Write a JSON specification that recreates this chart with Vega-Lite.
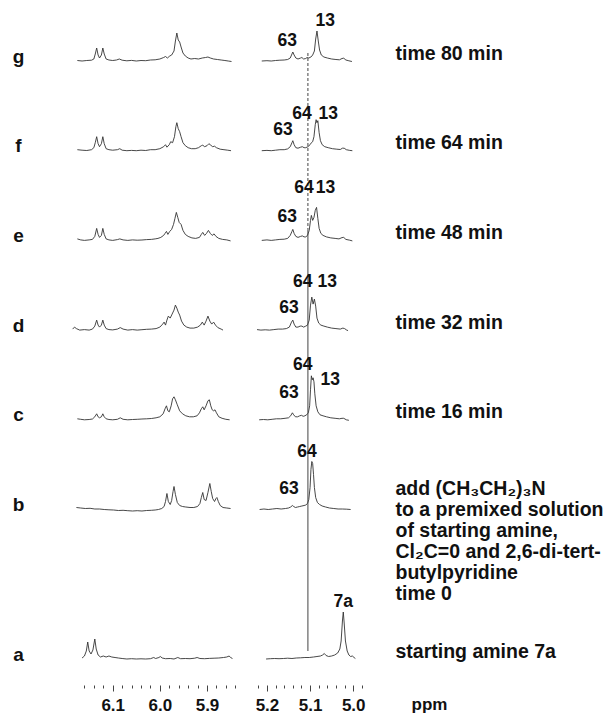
{
"$schema": "https://vega.github.io/schema/vega-lite/v6.json",
"width": 289, "height": 598,
"autosize": {"type": "none"},
"padding": {"left": 75, "top": 61, "right": 249, "bottom": 56},
"background": "white",
"config": {"view": {"stroke": null}, "font": "Liberation Sans"},
"datasets": {
"left": [
{"s":"g","p":6.175,"v":0.5},{"s":"g","p":6.165,"v":0},{"s":"g","p":6.155,"v":0.5},{"s":"g","p":6.145,"v":0.8},{"s":"g","p":6.14,"v":2},{"s":"g","p":6.137,"v":7},{"s":"g","p":6.134,"v":13},{"s":"g","p":6.131,"v":6},{"s":"g","p":6.128,"v":3},{"s":"g","p":6.124,"v":6},{"s":"g","p":6.121,"v":13},{"s":"g","p":6.118,"v":7},{"s":"g","p":6.114,"v":2},{"s":"g","p":6.108,"v":1},{"s":"g","p":6.1,"v":0.5},{"s":"g","p":6.092,"v":1},{"s":"g","p":6.086,"v":2},{"s":"g","p":6.08,"v":0.8},{"s":"g","p":6.07,"v":0.2},{"s":"g","p":6.06,"v":0.6},{"s":"g","p":6.05,"v":0},{"s":"g","p":6.04,"v":0.5},{"s":"g","p":6.03,"v":0.3},{"s":"g","p":6.02,"v":1},{"s":"g","p":6.01,"v":1.2},{"s":"g","p":6.0,"v":2},{"s":"g","p":5.992,"v":3.5},{"s":"g","p":5.988,"v":4.5},{"s":"g","p":5.984,"v":3},{"s":"g","p":5.979,"v":5},{"s":"g","p":5.975,"v":6},{"s":"g","p":5.97,"v":10},{"s":"g","p":5.967,"v":20},{"s":"g","p":5.964,"v":28},{"s":"g","p":5.961,"v":21},{"s":"g","p":5.958,"v":19},{"s":"g","p":5.955,"v":14},{"s":"g","p":5.951,"v":8},{"s":"g","p":5.946,"v":5},{"s":"g","p":5.94,"v":3},{"s":"g","p":5.934,"v":2},{"s":"g","p":5.926,"v":2.5},{"s":"g","p":5.918,"v":2},{"s":"g","p":5.91,"v":3},{"s":"g","p":5.903,"v":3.5},{"s":"g","p":5.898,"v":4},{"s":"g","p":5.893,"v":3},{"s":"g","p":5.886,"v":2},{"s":"g","p":5.878,"v":1.5},{"s":"g","p":5.87,"v":1},{"s":"g","p":5.862,"v":0.5},{"s":"g","p":5.855,"v":0},{"s":"g","p":5.848,"v":-0.5},
{"s":"f","p":6.175,"v":1},{"s":"f","p":6.165,"v":0.5},{"s":"f","p":6.155,"v":0.2},{"s":"f","p":6.145,"v":1},{"s":"f","p":6.14,"v":3},{"s":"f","p":6.137,"v":8},{"s":"f","p":6.134,"v":14},{"s":"f","p":6.131,"v":7},{"s":"f","p":6.128,"v":4},{"s":"f","p":6.124,"v":7},{"s":"f","p":6.121,"v":14},{"s":"f","p":6.118,"v":7},{"s":"f","p":6.114,"v":2},{"s":"f","p":6.108,"v":1},{"s":"f","p":6.1,"v":0.5},{"s":"f","p":6.09,"v":1},{"s":"f","p":6.085,"v":2},{"s":"f","p":6.08,"v":0.5},{"s":"f","p":6.07,"v":0},{"s":"f","p":6.06,"v":0.3},{"s":"f","p":6.05,"v":0},{"s":"f","p":6.04,"v":0.5},{"s":"f","p":6.03,"v":0.2},{"s":"f","p":6.02,"v":1},{"s":"f","p":6.01,"v":1},{"s":"f","p":6.0,"v":2},{"s":"f","p":5.992,"v":4},{"s":"f","p":5.988,"v":6},{"s":"f","p":5.985,"v":3.5},{"s":"f","p":5.98,"v":6},{"s":"f","p":5.977,"v":9},{"s":"f","p":5.973,"v":8},{"s":"f","p":5.969,"v":14},{"s":"f","p":5.966,"v":24},{"s":"f","p":5.964,"v":28},{"s":"f","p":5.961,"v":22},{"s":"f","p":5.958,"v":19},{"s":"f","p":5.955,"v":14},{"s":"f","p":5.951,"v":8},{"s":"f","p":5.946,"v":5},{"s":"f","p":5.94,"v":3},{"s":"f","p":5.933,"v":2},{"s":"f","p":5.925,"v":2},{"s":"f","p":5.918,"v":3},{"s":"f","p":5.912,"v":5},{"s":"f","p":5.909,"v":5.5},{"s":"f","p":5.905,"v":4},{"s":"f","p":5.9,"v":5},{"s":"f","p":5.896,"v":7},{"s":"f","p":5.892,"v":5.5},{"s":"f","p":5.888,"v":4},{"s":"f","p":5.884,"v":4.5},{"s":"f","p":5.88,"v":3},{"s":"f","p":5.872,"v":1.5},{"s":"f","p":5.864,"v":1},{"s":"f","p":5.856,"v":0.5},{"s":"f","p":5.849,"v":0},
{"s":"e","p":6.175,"v":1.5},{"s":"e","p":6.168,"v":0.5},{"s":"e","p":6.16,"v":0},{"s":"e","p":6.15,"v":0.5},{"s":"e","p":6.143,"v":1},{"s":"e","p":6.138,"v":4},{"s":"e","p":6.134,"v":12},{"s":"e","p":6.131,"v":6},{"s":"e","p":6.128,"v":3},{"s":"e","p":6.124,"v":5},{"s":"e","p":6.121,"v":12},{"s":"e","p":6.118,"v":6},{"s":"e","p":6.114,"v":1.5},{"s":"e","p":6.108,"v":0.5},{"s":"e","p":6.1,"v":0},{"s":"e","p":6.09,"v":0.8},{"s":"e","p":6.085,"v":1.5},{"s":"e","p":6.078,"v":0.5},{"s":"e","p":6.068,"v":0},{"s":"e","p":6.058,"v":0.5},{"s":"e","p":6.048,"v":0.2},{"s":"e","p":6.038,"v":0.4},{"s":"e","p":6.028,"v":0.8},{"s":"e","p":6.018,"v":1},{"s":"e","p":6.01,"v":1.5},{"s":"e","p":6.004,"v":2},{"s":"e","p":5.998,"v":3},{"s":"e","p":5.992,"v":5},{"s":"e","p":5.989,"v":7},{"s":"e","p":5.986,"v":9},{"s":"e","p":5.983,"v":6},{"s":"e","p":5.979,"v":9},{"s":"e","p":5.975,"v":11},{"s":"e","p":5.971,"v":16},{"s":"e","p":5.968,"v":22},{"s":"e","p":5.965,"v":28},{"s":"e","p":5.962,"v":23},{"s":"e","p":5.959,"v":18},{"s":"e","p":5.955,"v":16},{"s":"e","p":5.951,"v":10},{"s":"e","p":5.946,"v":6},{"s":"e","p":5.94,"v":4},{"s":"e","p":5.932,"v":2.5},{"s":"e","p":5.924,"v":2},{"s":"e","p":5.916,"v":3},{"s":"e","p":5.912,"v":6},{"s":"e","p":5.909,"v":8},{"s":"e","p":5.905,"v":5},{"s":"e","p":5.901,"v":7},{"s":"e","p":5.897,"v":10},{"s":"e","p":5.893,"v":7},{"s":"e","p":5.889,"v":5},{"s":"e","p":5.885,"v":6.5},{"s":"e","p":5.881,"v":4},{"s":"e","p":5.875,"v":2},{"s":"e","p":5.867,"v":1},{"s":"e","p":5.858,"v":0.5},{"s":"e","p":5.85,"v":-0.5},
{"s":"d","p":6.185,"v":1},{"s":"d","p":6.181,"v":3},{"s":"d","p":6.177,"v":1.5},{"s":"d","p":6.17,"v":0},{"s":"d","p":6.16,"v":0.5},{"s":"d","p":6.15,"v":0},{"s":"d","p":6.143,"v":1},{"s":"d","p":6.138,"v":4},{"s":"d","p":6.134,"v":10},{"s":"d","p":6.131,"v":5},{"s":"d","p":6.128,"v":3},{"s":"d","p":6.124,"v":5},{"s":"d","p":6.121,"v":10},{"s":"d","p":6.118,"v":5},{"s":"d","p":6.114,"v":1.5},{"s":"d","p":6.108,"v":0.5},{"s":"d","p":6.1,"v":0.2},{"s":"d","p":6.09,"v":1},{"s":"d","p":6.084,"v":2.5},{"s":"d","p":6.078,"v":1},{"s":"d","p":6.068,"v":0},{"s":"d","p":6.058,"v":0.5},{"s":"d","p":6.048,"v":0},{"s":"d","p":6.038,"v":0.4},{"s":"d","p":6.028,"v":0.8},{"s":"d","p":6.018,"v":1},{"s":"d","p":6.008,"v":1.5},{"s":"d","p":6.0,"v":3},{"s":"d","p":5.994,"v":6},{"s":"d","p":5.991,"v":8},{"s":"d","p":5.988,"v":5},{"s":"d","p":5.985,"v":10},{"s":"d","p":5.982,"v":14},{"s":"d","p":5.978,"v":12},{"s":"d","p":5.974,"v":16},{"s":"d","p":5.97,"v":20},{"s":"d","p":5.967,"v":25},{"s":"d","p":5.964,"v":22},{"s":"d","p":5.961,"v":18},{"s":"d","p":5.958,"v":15},{"s":"d","p":5.954,"v":9},{"s":"d","p":5.949,"v":5},{"s":"d","p":5.943,"v":3},{"s":"d","p":5.936,"v":2},{"s":"d","p":5.928,"v":2},{"s":"d","p":5.92,"v":3},{"s":"d","p":5.914,"v":5},{"s":"d","p":5.91,"v":8},{"s":"d","p":5.906,"v":5},{"s":"d","p":5.902,"v":9},{"s":"d","p":5.898,"v":14},{"s":"d","p":5.894,"v":9},{"s":"d","p":5.89,"v":6},{"s":"d","p":5.886,"v":8},{"s":"d","p":5.882,"v":5},{"s":"d","p":5.877,"v":2.5},{"s":"d","p":5.87,"v":1},{"s":"d","p":5.866,"v":0},
{"s":"c","p":6.175,"v":1},{"s":"c","p":6.168,"v":0.5},{"s":"c","p":6.16,"v":0},{"s":"c","p":6.15,"v":0.3},{"s":"c","p":6.143,"v":0.8},{"s":"c","p":6.138,"v":3},{"s":"c","p":6.134,"v":6},{"s":"c","p":6.131,"v":3},{"s":"c","p":6.128,"v":2},{"s":"c","p":6.124,"v":3},{"s":"c","p":6.121,"v":6},{"s":"c","p":6.118,"v":3},{"s":"c","p":6.114,"v":1},{"s":"c","p":6.108,"v":0.3},{"s":"c","p":6.1,"v":0},{"s":"c","p":6.09,"v":0.5},{"s":"c","p":6.084,"v":2},{"s":"c","p":6.078,"v":0.5},{"s":"c","p":6.068,"v":0},{"s":"c","p":6.058,"v":0.3},{"s":"c","p":6.048,"v":0.5},{"s":"c","p":6.038,"v":0.8},{"s":"c","p":6.028,"v":1},{"s":"c","p":6.018,"v":1.3},{"s":"c","p":6.008,"v":2},{"s":"c","p":6.0,"v":3},{"s":"c","p":5.993,"v":6},{"s":"c","p":5.989,"v":11},{"s":"c","p":5.986,"v":14},{"s":"c","p":5.983,"v":9},{"s":"c","p":5.98,"v":8},{"s":"c","p":5.976,"v":14},{"s":"c","p":5.973,"v":21},{"s":"c","p":5.97,"v":23},{"s":"c","p":5.967,"v":20},{"s":"c","p":5.963,"v":15},{"s":"c","p":5.958,"v":9},{"s":"c","p":5.952,"v":6},{"s":"c","p":5.945,"v":4},{"s":"c","p":5.937,"v":3},{"s":"c","p":5.929,"v":3},{"s":"c","p":5.921,"v":4},{"s":"c","p":5.916,"v":7},{"s":"c","p":5.912,"v":11},{"s":"c","p":5.909,"v":13},{"s":"c","p":5.906,"v":10},{"s":"c","p":5.902,"v":14},{"s":"c","p":5.898,"v":19},{"s":"c","p":5.895,"v":20},{"s":"c","p":5.892,"v":14},{"s":"c","p":5.889,"v":10},{"s":"c","p":5.886,"v":9},{"s":"c","p":5.883,"v":10},{"s":"c","p":5.88,"v":7},{"s":"c","p":5.875,"v":3},{"s":"c","p":5.868,"v":1.5},{"s":"c","p":5.86,"v":0.5},{"s":"c","p":5.852,"v":0},
{"s":"b","p":6.177,"v":2},{"s":"b","p":6.168,"v":1.5},{"s":"b","p":6.158,"v":1},{"s":"b","p":6.148,"v":1.2},{"s":"b","p":6.138,"v":0.5},{"s":"b","p":6.128,"v":0.5},{"s":"b","p":6.118,"v":0},{"s":"b","p":6.108,"v":-0.3},{"s":"b","p":6.098,"v":-0.5},{"s":"b","p":6.088,"v":-1},{"s":"b","p":6.078,"v":-0.8},{"s":"b","p":6.068,"v":-1.2},{"s":"b","p":6.058,"v":-1.5},{"s":"b","p":6.048,"v":-1.2},{"s":"b","p":6.038,"v":-1.5},{"s":"b","p":6.028,"v":-1},{"s":"b","p":6.018,"v":-0.8},{"s":"b","p":6.01,"v":-0.5},{"s":"b","p":6.003,"v":0},{"s":"b","p":5.996,"v":1},{"s":"b","p":5.991,"v":3},{"s":"b","p":5.988,"v":8},{"s":"b","p":5.985,"v":16},{"s":"b","p":5.982,"v":8},{"s":"b","p":5.978,"v":5},{"s":"b","p":5.975,"v":9},{"s":"b","p":5.972,"v":18},{"s":"b","p":5.97,"v":23},{"s":"b","p":5.967,"v":15},{"s":"b","p":5.963,"v":7},{"s":"b","p":5.958,"v":4},{"s":"b","p":5.952,"v":3},{"s":"b","p":5.945,"v":2.5},{"s":"b","p":5.936,"v":2},{"s":"b","p":5.928,"v":2},{"s":"b","p":5.92,"v":3},{"s":"b","p":5.915,"v":6},{"s":"b","p":5.912,"v":12},{"s":"b","p":5.909,"v":17},{"s":"b","p":5.906,"v":10},{"s":"b","p":5.902,"v":9},{"s":"b","p":5.898,"v":17},{"s":"b","p":5.894,"v":26},{"s":"b","p":5.891,"v":18},{"s":"b","p":5.888,"v":11},{"s":"b","p":5.884,"v":8},{"s":"b","p":5.881,"v":11},{"s":"b","p":5.879,"v":12},{"s":"b","p":5.876,"v":8},{"s":"b","p":5.872,"v":4},{"s":"b","p":5.866,"v":2},{"s":"b","p":5.858,"v":1.5},{"s":"b","p":5.85,"v":1},
{"s":"a","p":6.165,"v":1},{"s":"a","p":6.16,"v":3},{"s":"a","p":6.156,"v":8},{"s":"a","p":6.153,"v":17},{"s":"a","p":6.15,"v":8},{"s":"a","p":6.146,"v":5},{"s":"a","p":6.142,"v":9},{"s":"a","p":6.138,"v":20},{"s":"a","p":6.135,"v":10},{"s":"a","p":6.131,"v":4},{"s":"a","p":6.126,"v":2},{"s":"a","p":6.12,"v":3},{"s":"a","p":6.114,"v":2},{"s":"a","p":6.108,"v":3},{"s":"a","p":6.102,"v":2},{"s":"a","p":6.095,"v":1.5},{"s":"a","p":6.088,"v":1},{"s":"a","p":6.08,"v":0.5},{"s":"a","p":6.07,"v":0},{"s":"a","p":6.06,"v":0.3},{"s":"a","p":6.05,"v":0},{"s":"a","p":6.04,"v":0.2},{"s":"a","p":6.03,"v":0},{"s":"a","p":6.02,"v":0.3},{"s":"a","p":6.013,"v":1.5},{"s":"a","p":6.009,"v":0.5},{"s":"a","p":6.002,"v":1.5},{"s":"a","p":5.999,"v":2.5},{"s":"a","p":5.995,"v":1},{"s":"a","p":5.988,"v":0.3},{"s":"a","p":5.978,"v":0.5},{"s":"a","p":5.97,"v":0},{"s":"a","p":5.962,"v":1.5},{"s":"a","p":5.956,"v":0.3},{"s":"a","p":5.946,"v":0.5},{"s":"a","p":5.936,"v":0.3},{"s":"a","p":5.926,"v":0.8},{"s":"a","p":5.921,"v":1.5},{"s":"a","p":5.915,"v":0.5},{"s":"a","p":5.905,"v":0.3},{"s":"a","p":5.895,"v":0.6},{"s":"a","p":5.885,"v":0.8},{"s":"a","p":5.875,"v":1},{"s":"a","p":5.865,"v":1.5},{"s":"a","p":5.858,"v":2},{"s":"a","p":5.853,"v":3},{"s":"a","p":5.85,"v":1.5},{"s":"a","p":5.846,"v":0.5}
],
"right": [
{"s":"g","p":5.212,"v":0},{"s":"g","p":5.2,"v":0.3},{"s":"g","p":5.19,"v":0},{"s":"g","p":5.18,"v":0.5},{"s":"g","p":5.17,"v":0.8},{"s":"g","p":5.16,"v":1},{"s":"g","p":5.152,"v":1.5},{"s":"g","p":5.146,"v":3},{"s":"g","p":5.142,"v":7},{"s":"g","p":5.14,"v":9},{"s":"g","p":5.137,"v":6},{"s":"g","p":5.133,"v":3},{"s":"g","p":5.128,"v":2},{"s":"g","p":5.122,"v":3},{"s":"g","p":5.119,"v":3.5},{"s":"g","p":5.115,"v":2},{"s":"g","p":5.11,"v":2.5},{"s":"g","p":5.107,"v":3.5},{"s":"g","p":5.103,"v":3},{"s":"g","p":5.098,"v":4},{"s":"g","p":5.094,"v":6},{"s":"g","p":5.09,"v":10},{"s":"g","p":5.087,"v":22},{"s":"g","p":5.084,"v":30},{"s":"g","p":5.081,"v":20},{"s":"g","p":5.078,"v":11},{"s":"g","p":5.074,"v":6},{"s":"g","p":5.068,"v":4},{"s":"g","p":5.06,"v":3},{"s":"g","p":5.05,"v":2},{"s":"g","p":5.04,"v":1.5},{"s":"g","p":5.032,"v":1.2},{"s":"g","p":5.026,"v":2.5},{"s":"g","p":5.022,"v":2.8},{"s":"g","p":5.017,"v":1},{"s":"g","p":5.01,"v":0.2},{"s":"g","p":5.003,"v":-0.5},
{"s":"f","p":5.212,"v":0},{"s":"f","p":5.2,"v":0.3},{"s":"f","p":5.19,"v":0},{"s":"f","p":5.18,"v":0.5},{"s":"f","p":5.17,"v":1},{"s":"f","p":5.16,"v":1},{"s":"f","p":5.152,"v":1.8},{"s":"f","p":5.146,"v":4},{"s":"f","p":5.142,"v":8},{"s":"f","p":5.14,"v":10},{"s":"f","p":5.137,"v":6},{"s":"f","p":5.133,"v":3},{"s":"f","p":5.128,"v":2.5},{"s":"f","p":5.122,"v":3.5},{"s":"f","p":5.118,"v":4},{"s":"f","p":5.114,"v":3},{"s":"f","p":5.11,"v":3},{"s":"f","p":5.105,"v":4},{"s":"f","p":5.1,"v":6},{"s":"f","p":5.097,"v":8},{"s":"f","p":5.094,"v":9},{"s":"f","p":5.091,"v":14},{"s":"f","p":5.088,"v":26},{"s":"f","p":5.086,"v":31},{"s":"f","p":5.084,"v":28},{"s":"f","p":5.082,"v":30},{"s":"f","p":5.079,"v":18},{"s":"f","p":5.076,"v":10},{"s":"f","p":5.072,"v":6},{"s":"f","p":5.066,"v":4},{"s":"f","p":5.058,"v":3},{"s":"f","p":5.048,"v":2},{"s":"f","p":5.038,"v":1.5},{"s":"f","p":5.03,"v":1.2},{"s":"f","p":5.025,"v":2.5},{"s":"f","p":5.021,"v":2.5},{"s":"f","p":5.016,"v":1},{"s":"f","p":5.008,"v":0.3},{"s":"f","p":5.002,"v":0},
{"s":"e","p":5.212,"v":0},{"s":"e","p":5.2,"v":0.5},{"s":"e","p":5.19,"v":0},{"s":"e","p":5.18,"v":0.5},{"s":"e","p":5.17,"v":1},{"s":"e","p":5.16,"v":1.2},{"s":"e","p":5.152,"v":2},{"s":"e","p":5.146,"v":5},{"s":"e","p":5.142,"v":9},{"s":"e","p":5.14,"v":11},{"s":"e","p":5.137,"v":7},{"s":"e","p":5.133,"v":4},{"s":"e","p":5.128,"v":3},{"s":"e","p":5.122,"v":4},{"s":"e","p":5.118,"v":4.5},{"s":"e","p":5.114,"v":3.5},{"s":"e","p":5.11,"v":3.5},{"s":"e","p":5.106,"v":5},{"s":"e","p":5.102,"v":10},{"s":"e","p":5.099,"v":20},{"s":"e","p":5.097,"v":25},{"s":"e","p":5.094,"v":20},{"s":"e","p":5.091,"v":23},{"s":"e","p":5.088,"v":30},{"s":"e","p":5.085,"v":33},{"s":"e","p":5.082,"v":22},{"s":"e","p":5.079,"v":12},{"s":"e","p":5.075,"v":7},{"s":"e","p":5.07,"v":5},{"s":"e","p":5.062,"v":3.5},{"s":"e","p":5.052,"v":2.5},{"s":"e","p":5.042,"v":2},{"s":"e","p":5.033,"v":1.5},{"s":"e","p":5.026,"v":2.8},{"s":"e","p":5.022,"v":3},{"s":"e","p":5.017,"v":1},{"s":"e","p":5.008,"v":0.2},{"s":"e","p":5.002,"v":-0.5},
{"s":"d","p":5.223,"v":0.5},{"s":"d","p":5.214,"v":0},{"s":"d","p":5.204,"v":0.3},{"s":"d","p":5.194,"v":0},{"s":"d","p":5.184,"v":0.5},{"s":"d","p":5.174,"v":1},{"s":"d","p":5.164,"v":1},{"s":"d","p":5.155,"v":1.5},{"s":"d","p":5.148,"v":3},{"s":"d","p":5.143,"v":8},{"s":"d","p":5.14,"v":10},{"s":"d","p":5.137,"v":6},{"s":"d","p":5.133,"v":3},{"s":"d","p":5.128,"v":3},{"s":"d","p":5.123,"v":4},{"s":"d","p":5.119,"v":4},{"s":"d","p":5.115,"v":3},{"s":"d","p":5.11,"v":4},{"s":"d","p":5.106,"v":5},{"s":"d","p":5.102,"v":10},{"s":"d","p":5.099,"v":25},{"s":"d","p":5.096,"v":33},{"s":"d","p":5.093,"v":26},{"s":"d","p":5.09,"v":31},{"s":"d","p":5.087,"v":24},{"s":"d","p":5.084,"v":12},{"s":"d","p":5.08,"v":7},{"s":"d","p":5.075,"v":5},{"s":"d","p":5.068,"v":4},{"s":"d","p":5.06,"v":3},{"s":"d","p":5.05,"v":2},{"s":"d","p":5.04,"v":1.5},{"s":"d","p":5.03,"v":1},{"s":"d","p":5.024,"v":2},{"s":"d","p":5.02,"v":1.5},{"s":"d","p":5.015,"v":0},{"s":"d","p":5.012,"v":-0.5},
{"s":"c","p":5.218,"v":0},{"s":"c","p":5.208,"v":0.3},{"s":"c","p":5.198,"v":0},{"s":"c","p":5.188,"v":0.5},{"s":"c","p":5.178,"v":1},{"s":"c","p":5.168,"v":1},{"s":"c","p":5.158,"v":1.5},{"s":"c","p":5.15,"v":2},{"s":"c","p":5.145,"v":4},{"s":"c","p":5.141,"v":7},{"s":"c","p":5.138,"v":5},{"s":"c","p":5.134,"v":3},{"s":"c","p":5.129,"v":3},{"s":"c","p":5.124,"v":4},{"s":"c","p":5.12,"v":4.5},{"s":"c","p":5.116,"v":3.5},{"s":"c","p":5.112,"v":4},{"s":"c","p":5.108,"v":5},{"s":"c","p":5.104,"v":7},{"s":"c","p":5.101,"v":14},{"s":"c","p":5.099,"v":30},{"s":"c","p":5.097,"v":44},{"s":"c","p":5.095,"v":40},{"s":"c","p":5.093,"v":42},{"s":"c","p":5.091,"v":38},{"s":"c","p":5.089,"v":26},{"s":"c","p":5.086,"v":14},{"s":"c","p":5.082,"v":8},{"s":"c","p":5.077,"v":5},{"s":"c","p":5.07,"v":4},{"s":"c","p":5.062,"v":3},{"s":"c","p":5.052,"v":2},{"s":"c","p":5.042,"v":1.5},{"s":"c","p":5.032,"v":1},{"s":"c","p":5.026,"v":1.5},{"s":"c","p":5.022,"v":1.5},{"s":"c","p":5.016,"v":0},{"s":"c","p":5.01,"v":-0.5},
{"s":"b","p":5.217,"v":0},{"s":"b","p":5.207,"v":0.5},{"s":"b","p":5.197,"v":0},{"s":"b","p":5.187,"v":0.5},{"s":"b","p":5.177,"v":1},{"s":"b","p":5.167,"v":0.5},{"s":"b","p":5.157,"v":1},{"s":"b","p":5.15,"v":1.5},{"s":"b","p":5.145,"v":2.5},{"s":"b","p":5.141,"v":4},{"s":"b","p":5.138,"v":3},{"s":"b","p":5.134,"v":2},{"s":"b","p":5.129,"v":2.5},{"s":"b","p":5.124,"v":3},{"s":"b","p":5.119,"v":3.5},{"s":"b","p":5.114,"v":4},{"s":"b","p":5.11,"v":4.5},{"s":"b","p":5.106,"v":6},{"s":"b","p":5.103,"v":10},{"s":"b","p":5.1,"v":22},{"s":"b","p":5.098,"v":40},{"s":"b","p":5.096,"v":48},{"s":"b","p":5.094,"v":46},{"s":"b","p":5.092,"v":35},{"s":"b","p":5.09,"v":22},{"s":"b","p":5.087,"v":12},{"s":"b","p":5.083,"v":7},{"s":"b","p":5.078,"v":5},{"s":"b","p":5.072,"v":3.5},{"s":"b","p":5.064,"v":2.5},{"s":"b","p":5.055,"v":1.5},{"s":"b","p":5.045,"v":1},{"s":"b","p":5.035,"v":0.5},{"s":"b","p":5.025,"v":0.5},{"s":"b","p":5.015,"v":0.3},{"s":"b","p":5.006,"v":0},
{"s":"a","p":5.202,"v":0},{"s":"a","p":5.192,"v":0.3},{"s":"a","p":5.182,"v":0.5},{"s":"a","p":5.172,"v":0.3},{"s":"a","p":5.162,"v":0.5},{"s":"a","p":5.152,"v":0.8},{"s":"a","p":5.142,"v":0.5},{"s":"a","p":5.132,"v":1},{"s":"a","p":5.122,"v":1.2},{"s":"a","p":5.112,"v":1.5},{"s":"a","p":5.102,"v":1.5},{"s":"a","p":5.092,"v":2},{"s":"a","p":5.084,"v":2.5},{"s":"a","p":5.076,"v":3},{"s":"a","p":5.071,"v":4},{"s":"a","p":5.067,"v":5.5},{"s":"a","p":5.063,"v":3.5},{"s":"a","p":5.057,"v":2.5},{"s":"a","p":5.05,"v":3},{"s":"a","p":5.043,"v":4},{"s":"a","p":5.036,"v":6},{"s":"a","p":5.031,"v":10},{"s":"a","p":5.028,"v":18},{"s":"a","p":5.025,"v":38},{"s":"a","p":5.023,"v":47},{"s":"a","p":5.021,"v":36},{"s":"a","p":5.018,"v":18},{"s":"a","p":5.014,"v":8},{"s":"a","p":5.01,"v":4},{"s":"a","p":5.006,"v":2.5},{"s":"a","p":5.002,"v":3},{"s":"a","p":4.998,"v":1.5},{"s":"a","p":4.995,"v":0.5}
],
"labels": [
{"s":"g","p":5.153,"v":20,"t":"63"},{"s":"g","p":5.065,"v":40,"t":"13"},
{"s":"f","p":5.119,"v":37,"t":"64"},{"s":"f","p":5.058,"v":37,"t":"13"},{"s":"f","p":5.163,"v":21,"t":"63"},
{"s":"e","p":5.114,"v":52,"t":"64"},{"s":"e","p":5.064,"v":52,"t":"13"},{"s":"e","p":5.153,"v":23,"t":"63"},
{"s":"d","p":5.117,"v":48,"t":"64"},{"s":"d","p":5.06,"v":48,"t":"13"},{"s":"d","p":5.149,"v":22,"t":"63"},
{"s":"c","p":5.117,"v":55,"t":"64"},{"s":"c","p":5.053,"v":40,"t":"13"},{"s":"c","p":5.149,"v":27,"t":"63"},
{"s":"b","p":5.107,"v":58,"t":"64"},{"s":"b","p":5.149,"v":21,"t":"63"},
{"s":"a","p":5.023,"v":57,"t":"7a"}
],
"marker": [
{"p":5.105,"from":"g","to":"e","part":"upper"},
{"p":5.105,"from":"a","to":"e","part":"lower"}
]
},
"layer": [
{
"data": {"name": "left"},
"mark": {"type": "line", "stroke": "#333333", "strokeWidth": 0.9},
"encoding": {
"x": {"field": "p", "type": "quantitative",
 "scale": {"domain": [6.18, 5.83, 5.23, 4.975], "range": [0, 165, 179, 289], "nice": false, "zero": false},
 "axis": {"title": "ppm", "values": [6.16,6.14,6.12,6.1,6.08,6.06,6.04,6.02,6,5.98,5.96,5.94,5.92,5.9,5.88,5.86,5.84,5.22,5.2,5.18,5.16,5.14,5.12,5.1,5.08,5.06,5.04,5.02,5,4.98],
  "tickCount": 100,
  "labelExpr": "abs(datum.value*10 - round(datum.value*10)) < 0.01 ? format(datum.value, '.1f') : ''",
  "tickSize": {"condition": {"test": "abs(datum.value*10 - round(datum.value*10)) < 0.01", "value": 6}, "value": 3},
  "tickColor": "#444", "tickWidth": 1, "domain": false, "grid": false, "offset": 26,
  "labelFont": "Liberation Sans", "labelFontWeight": "bold", "labelFontSize": 17, "labelColor": "#111",
  "labelBaseline": "middle", "labelPadding": 14, "labelFlush": false, "labelOverlap": false, "labelBound": false,
  "titleFont": "Liberation Sans", "titleFontWeight": "bold", "titleFontSize": 17, "titleColor": "#111",
  "titleX": 336, "titleY": 19, "titleAlign": "left", "titleBaseline": "middle"}},
"y": {"field": "s", "type": "nominal",
 "scale": {"type": "point", "padding": 0, "domain": ["g","g1","g2","f","f1","f2","e","e1","e2","d","d1","d2","c","c1","c2","b","b1","b2","b3","b4","a"]},
 "axis": {"orient": "left", "title": null, "values": ["g","f","e","d","c","b","a"], "ticks": false, "domain": false, "grid": false,
  "labelFont": "Liberation Sans", "labelFontWeight": "bold", "labelFontSize": 19, "labelColor": "#111",
  "labelAlign": "center", "labelBaseline": "middle", "labelPadding": 57, "labelOffset": -5}},
"yOffset": {"field": "v", "type": "quantitative", "scale": {"domain": [0, 50], "range": [0, -50], "zero": false, "nice": false}},
"detail": {"field": "s", "type": "nominal"},
"order": {"field": "p", "type": "quantitative"}
}
},
{
"data": {"name": "right"},
"mark": {"type": "line", "stroke": "#333333", "strokeWidth": 0.9},
"encoding": {
"x": {"field": "p", "type": "quantitative"},
"y": {"field": "s", "type": "nominal", "scale": {"type": "point"}, "axis": null},
"yOffset": {"field": "v", "type": "quantitative", "scale": {"domain": [0, 50], "range": [0, -50], "zero": false, "nice": false}},
"detail": {"field": "s", "type": "nominal"},
"order": {"field": "p", "type": "quantitative"}
}
},
{
"data": {"name": "marker"},
"mark": {"type": "rule", "stroke": "#444", "strokeWidth": 1, "yOffset": -8, "y2Offset": -11},
"encoding": {
"x": {"field": "p", "type": "quantitative"},
"y": {"field": "from", "type": "nominal", "scale": {"type": "point"}, "axis": null},
"y2": {"field": "to"},
"strokeDash": {"field": "part", "type": "nominal", "scale": {"domain": ["upper","lower"], "range": [[3,2],[1,0]]}, "legend": null}
}
},
{
"data": {"name": "labels"},
"mark": {"type": "text", "font": "Liberation Sans", "fontWeight": "bold", "fontSize": 17.5, "align": "center", "baseline": "middle", "color": "#111"},
"encoding": {
"x": {"field": "p", "type": "quantitative"},
"y": {"field": "s", "type": "nominal", "scale": {"type": "point"},
 "axis": {"orient": "right", "title": null, "values": ["g","f","e","d","c","b","a"], "ticks": false, "domain": false, "grid": false,
  "labelExpr": "datum.value === 'g' ? 'time 80 min' : datum.value === 'f' ? 'time 64 min' : datum.value === 'e' ? 'time 48 min' : datum.value === 'd' ? 'time 32 min' : datum.value === 'c' ? 'time 16 min' : datum.value === 'b' ? ['add (CH₃CH₂)₃N', 'to a premixed solution', 'of starting amine,', 'Cl₂C=0 and 2,6-di-tert-', 'butylpyridine', 'time 0'] : 'starting amine  7a'",
  "labelFont": "Liberation Sans", "labelFontWeight": "bold", "labelFontSize": 19.5, "labelColor": "#111",
  "labelAlign": "left", "labelBaseline": "middle", "labelPadding": 31, "labelLimit": 400, "labelLineHeight": 21,
  "labelOffset": {"condition": {"test": "datum.value === 'b'", "value": -21}, "value": -8}}},
"yOffset": {"field": "v", "type": "quantitative", "scale": {"domain": [0, 50], "range": [0, -50], "zero": false, "nice": false}},
"text": {"field": "t", "type": "nominal"}
}
}
],
"resolve": {"axis": {"y": "independent"}}
}
